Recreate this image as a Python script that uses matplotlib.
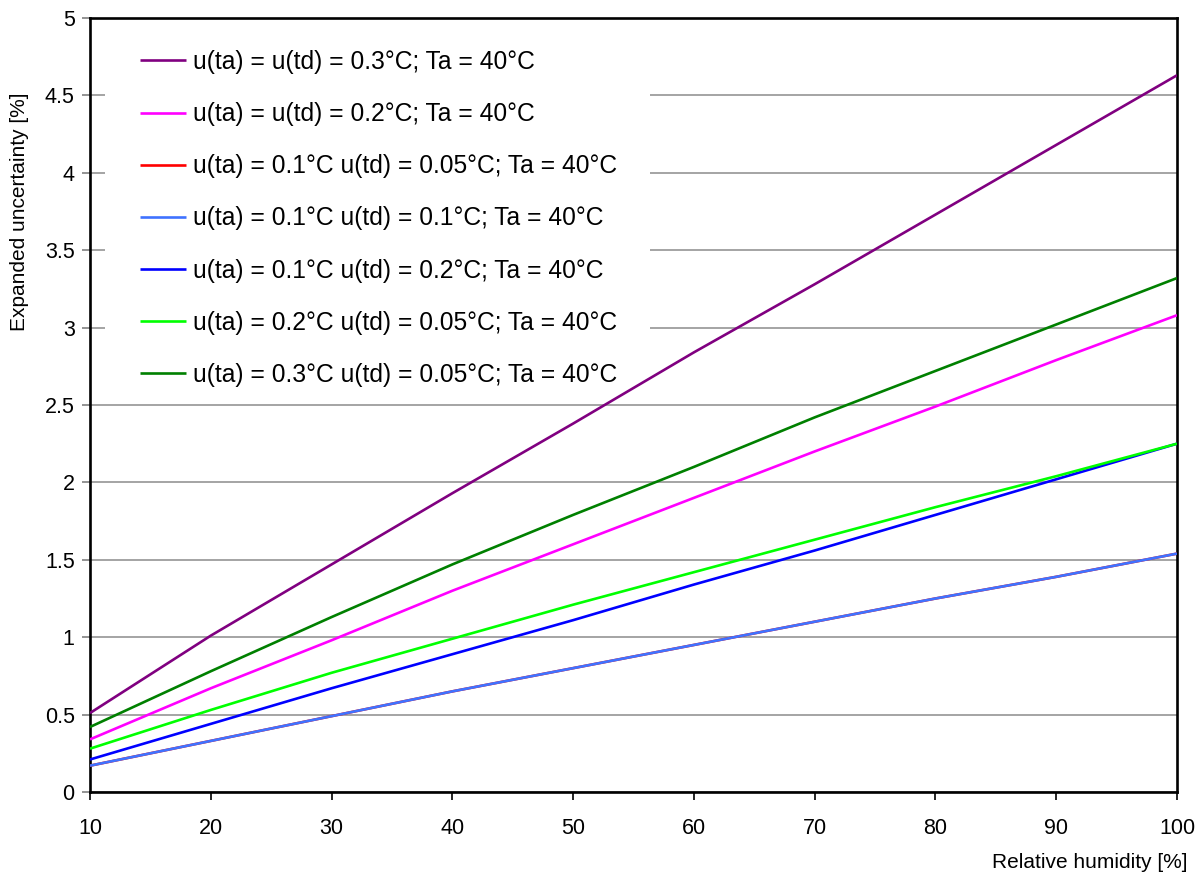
import matplotlib
matplotlib.use("Agg")
import matplotlib.pyplot as plt
from matplotlib.patches import Rectangle

plt.rcParams['font.family'] = ['Liberation Sans', 'DejaVu Sans']

rh = [10, 20, 30, 40, 50, 60, 70, 80, 90, 100]

labels = [
    "u(ta) = u(td) = 0.3°C; Ta = 40°C",
    "u(ta) = u(td) = 0.2°C; Ta = 40°C",
    "u(ta) = 0.1°C u(td) = 0.05°C; Ta = 40°C",
    "u(ta) = 0.1°C u(td) = 0.1°C; Ta = 40°C",
    "u(ta) = 0.1°C u(td) = 0.2°C; Ta = 40°C",
    "u(ta) = 0.2°C u(td) = 0.05°C; Ta = 40°C",
    "u(ta) = 0.3°C u(td) = 0.05°C; Ta = 40°C",
]
colors = ["#800080", "#FF00FF", "#FF0000", "#3F72FF", "#0000FF", "#00FF00", "#008000"]

u_03_03 = [0.51, 1.01, 1.47, 1.93, 2.38, 2.84, 3.28, 3.73, 4.18, 4.63]
u_02_02 = [0.34, 0.67, 0.98, 1.30, 1.60, 1.90, 2.20, 2.49, 2.79, 3.08]
u_01_005 = [0.17, 0.33, 0.49, 0.65, 0.80, 0.95, 1.10, 1.25, 1.39, 1.54]
u_01_01 = [0.17, 0.33, 0.49, 0.65, 0.80, 0.95, 1.10, 1.25, 1.39, 1.54]
u_01_02 = [0.21, 0.44, 0.67, 0.89, 1.11, 1.34, 1.56, 1.79, 2.02, 2.25]
u_02_005 = [0.28, 0.53, 0.77, 0.99, 1.21, 1.42, 1.63, 1.84, 2.04, 2.25]
u_03_005 = [0.42, 0.78, 1.13, 1.47, 1.79, 2.10, 2.42, 2.72, 3.02, 3.32]

series = [u_03_03, u_02_02, u_01_005, u_01_01, u_01_02, u_02_005, u_03_005]

W, H = 1204, 881
fig = plt.figure(figsize=(W / 100, H / 100), dpi=100)
ax = fig.add_axes([90 / W, 1 - 792 / H, (1177 - 90) / W, (792 - 18) / H])

ax.set_xlim(10, 100)
ax.set_ylim(0, 5)
ax.set_xticks(range(10, 101, 10))
ax.set_yticks([0, 0.5, 1, 1.5, 2, 2.5, 3, 3.5, 4, 4.5, 5])
ax.set_yticklabels(["0", "0.5", "1", "1.5", "2", "2.5", "3", "3.5", "4", "4.5", "5"])

ax.grid(axis='y', color='#8c8c8c', linewidth=1.1, zorder=0)
ax.set_axisbelow(True)

# white legend background covering the gridlines
ax.add_patch(Rectangle((15 / 1087, (792 - 392) / 774), (650 - 105) / 1087, 1 - (792 - 392) / 774,
                       transform=ax.transAxes, facecolor='white', edgecolor='none', zorder=1))

handles = []
for vals, c, lab in zip(series, colors, labels):
    h, = ax.plot(rh, vals, color=c, linewidth=1.9, label=lab, zorder=3, solid_capstyle='butt')
    handles.append(h)

for s in ax.spines.values():
    s.set_linewidth(1.9)
    s.set_color('black')

ax.tick_params(axis='x', direction='out', length=6, width=1.2, color='black', pad=13, labelsize=15.5)
ax.tick_params(axis='y', direction='out', length=6, width=1.2, color='#808080', pad=5, labelsize=15.5)

leg = fig.legend(handles=handles, labels=labels, loc='upper left',
                 bbox_to_anchor=(140 / W, 1 - 50 / H), bbox_transform=fig.transFigure,
                 frameon=False, fontsize=17.7, handlelength=1.87, handletextpad=0.28,
                 labelspacing=1.145, borderpad=0, borderaxespad=0)

fig.text(1187 / W, 1 - 862 / H, "Relative humidity [%]", ha='right', va='center', fontsize=15)
fig.text(20 / W, 1 - 212 / H, "Expanded uncertainty [%]", ha='center', va='center',
         rotation=90, fontsize=15)

fig.savefig("out.png", dpi=100)
